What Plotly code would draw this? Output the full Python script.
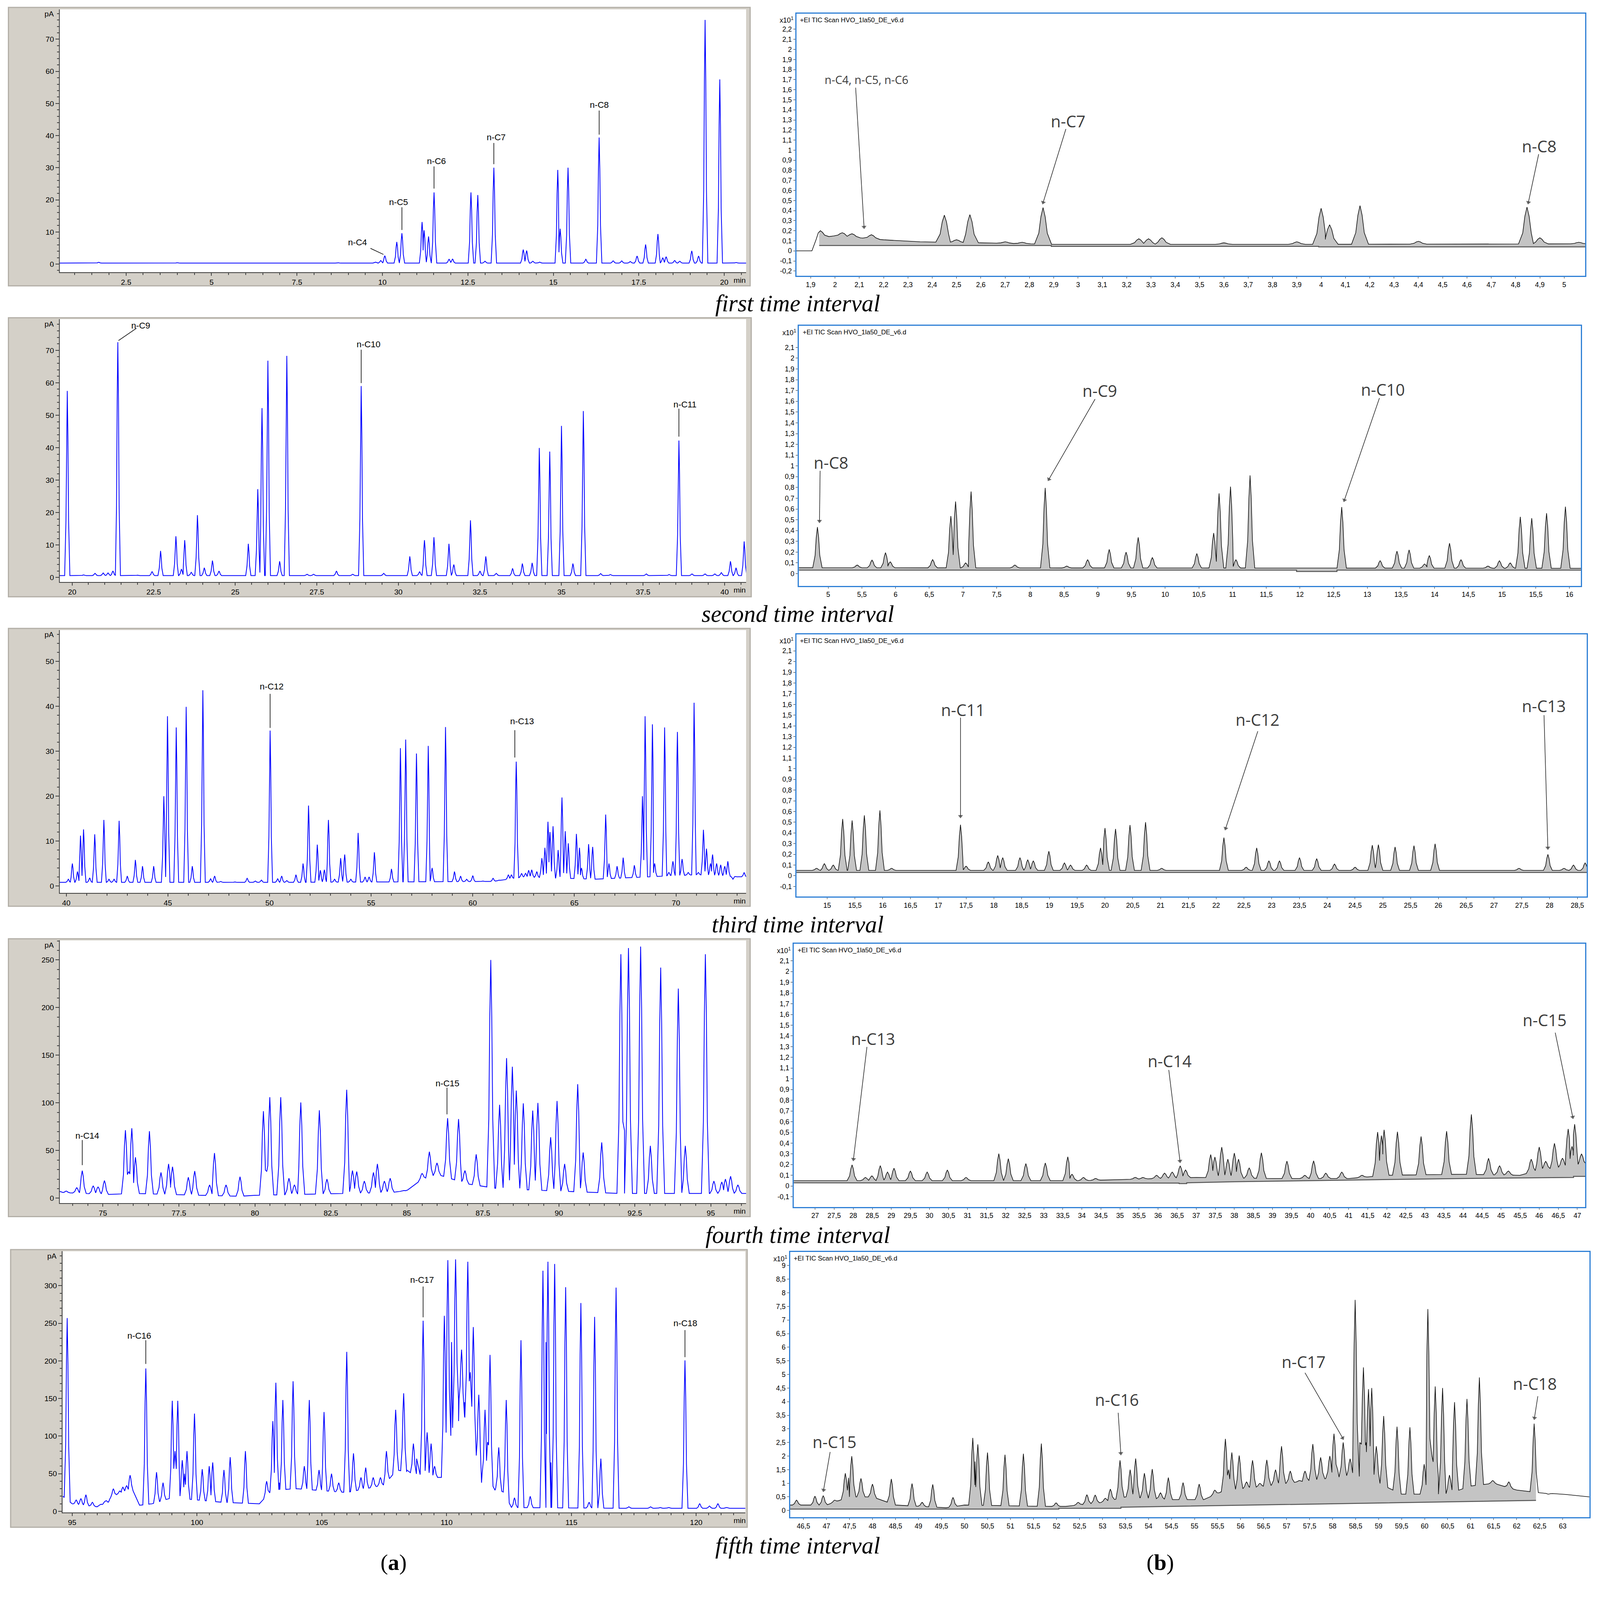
import numpy as np
import plotly.graph_objects as go

# reference canvas (all geometry below is read in these pixels) and the real browser window
W, H = 4364, 5804
WIN_W, WIN_H = 4096, 4096
SX, SY = WIN_W / W, WIN_H / H
FS = 0.8  # font / stroke scale for the smaller window

# ---------------- (a) FID chromatograms, pA vs min ----------------
a1_t = [1.7, 4.0, 8.7, 9.8, 9.95, 10.07, 10.42, 10.57, 11.16, 11.22, 11.35, 11.51, 11.95, 12.05, 12.59, 12.79,
        13.0, 13.26, 14.12, 14.22, 14.4, 14.6, 15.13, 15.2, 15.43, 15.95, 16.34, 16.75, 17.0, 17.25, 17.45, 17.7,
        18.06, 18.2, 18.3, 18.55, 18.7, 19.05, 19.25, 19.44, 19.87, 20.35]
a1_h = [0.55, 0.45, 0.45, 0.6, 1.1, 2.6, 6.9, 9.6, 13.1, 10.5, 8.6, 22.3, 1.5, 1.6, 22.3, 21.5,
        0.9, 30.0, 4.5, 4.2, 0.9, 0.6, 29.3, 11.0, 30.0, 1.5, 39.4, 1.0, 1.0, 0.8, 2.5, 6.1,
        9.35, 2.0, 2.3, 1.1, 0.9, 4.1, 2.5, 76.0, 57.5, 0.5]
a1_floor_t = [0.56, 20.64]
a1_floor_y = [0.3, 0.3]

a2_t = [19.85, 20.35, 20.7, 20.95, 21.1, 21.25, 21.4, 22.0, 22.45, 22.71, 23.18, 23.35, 23.45, 23.65, 23.84,
        24.05, 24.3, 24.5, 25.4, 25.69, 25.82, 26.0, 26.36, 26.58, 27.2, 27.4, 28.1, 28.6, 28.86, 29.55,
        30.35, 30.65, 30.8, 31.09, 31.55, 31.7, 32.21, 32.5, 32.68, 33.0, 33.5, 33.8, 34.1, 34.32, 34.64,
        35.0, 35.35, 35.67, 36.2, 36.5, 37.6, 38.3, 38.6, 39.0, 39.4, 39.7, 39.9, 40.18, 40.35, 40.6]
a2_h = [57.5, 0.8, 1.3, 1.4, 1.4, 2.0, 72.5, 0.7, 1.8, 8.2, 12.7, 2.6, 11.5, 1.6, 19.2,
        3.0, 5.2, 2.0, 10.4, 27.2, 52.2, 66.8, 5.0, 68.3, 1.0, 1.0, 2.0, 1.0, 59.0, 1.3,
        6.5, 1.8, 11.5, 12.4, 10.4, 4.0, 17.6, 2.0, 6.5, 1.3, 2.8, 4.3, 4.5, 39.9, 38.8,
        46.7, 4.3, 51.3, 1.2, 0.9, 1.1, 0.9, 42.2, 1.1, 1.1, 1.1, 1.5, 5.0, 3.0, 11.1]
a2_floor_t = [19.62, 40.66]
a2_floor_y = [0.6, 0.6]

a3_t = [40.1, 40.3, 40.55, 40.7, 40.85, 41.15, 41.4, 41.85, 42.1, 42.35, 42.6, 43.0, 43.4, 43.75, 44.3, 44.8,
        44.98, 45.41, 45.9, 46.2, 46.72, 47.1, 47.3, 47.6, 48.3, 48.9, 49.3, 49.6, 50.03, 50.4, 50.6, 50.85,
        51.3, 51.65, 51.92, 52.35, 52.5, 52.7, 52.9, 53.2, 53.5, 53.7, 54.0, 54.36, 54.7, 54.9, 55.16, 56.0,
        56.44, 56.7, 57.23, 57.81, 58.0, 58.66, 59.1, 59.4, 59.7, 60.0, 60.5, 61.0, 61.3, 61.75, 61.9, 62.14,
        62.4, 62.6, 62.75, 62.9, 63.15, 63.4, 63.55, 63.7, 63.8, 63.95, 64.2, 64.39, 64.55, 64.7, 65.1, 65.25,
        65.35, 65.7, 65.9, 66.54, 66.7, 67.1, 67.4, 67.95, 68.35, 68.48, 68.84, 68.95, 69.44, 69.65, 69.85,
        70.07, 70.3, 70.6, 70.89, 71.1, 71.35, 71.5, 71.7, 71.8, 72.0, 72.2, 72.4, 72.55, 72.8, 73.0, 73.35]
a3_h = [1.5, 5.0, 3.2, 11.2, 12.6, 1.8, 11.5, 14.7, 1.5, 1.5, 14.5, 2.2, 5.8, 4.4, 4.4, 20.0,
        37.8, 35.3, 39.9, 4.4, 43.6, 1.6, 2.2, 1.0, 0.9, 1.7, 1.1, 1.3, 34.6, 1.6, 2.2, 1.2,
        2.5, 5.0, 17.9, 9.2, 3.5, 3.6, 14.7, 1.5, 6.2, 7.0, 1.5, 11.8, 2.0, 2.0, 7.5, 3.8,
        30.7, 32.6, 29.5, 31.2, 4.0, 35.4, 3.2, 2.2, 1.5, 2.3, 1.1, 1.7, 1.3, 2.5, 2.5, 27.7,
        2.8, 2.8, 3.5, 3.6, 3.2, 6.2, 8.5, 14.3, 12.0, 13.3, 8.0, 19.7, 12.2, 9.5, 11.6, 8.5,
        4.0, 9.3, 8.7, 15.9, 5.0, 4.4, 6.3, 4.6, 20.0, 37.8, 36.0, 5.0, 35.3, 3.0, 5.5,
        34.3, 6.0, 3.0, 40.8, 3.0, 12.5, 8.3, 5.0, 7.0, 5.0, 4.7, 4.4, 5.5, 1.5, 2.0, 3.0]
a3_floor_t = [39.68, 44.0, 47.0, 51.0, 56.0, 61.0, 62.5, 66.0, 71.0, 73.45]
a3_floor_y = [0.8, 0.8, 0.8, 0.8, 0.9, 1.0, 2.0, 1.5, 2.5, 2.0]

a4_t = [73.59, 73.79, 74.14, 74.32, 74.68, 74.84, 75.05, 75.74, 75.95, 76.07, 76.53, 76.91, 77.16, 77.29,
        77.81, 78.02, 78.51, 78.67, 79.05, 79.51, 80.28, 80.49, 80.85, 81.12, 81.3, 81.51, 82.12, 82.37,
        83.02, 83.21, 83.35, 83.6, 83.9, 84.03, 84.26, 84.45, 84.9, 85.5, 85.74, 85.99, 86.34, 86.7, 86.91,
        87.28, 87.76, 88.05, 88.28, 88.47, 88.6, 88.83, 89.14, 89.31, 89.73, 89.94, 90.19, 90.62, 90.8,
        91.41, 92.04, 92.29, 92.69, 93.01, 93.35, 93.93, 94.16, 94.82, 95.1, 95.36, 95.48, 95.65, 95.89]
a4_h = [7, 7.5, 11, 28.9, 13, 12, 18.5, 71.4, 73.4, 43, 70.3, 27, 36, 33,
        22, 28.5, 14, 47.4, 14, 22.5, 91.3, 106, 106, 21, 14, 100.5, 92.3, 20,
        113.8, 29, 28, 18, 27, 36, 18, 21, 8, 26, 48.8, 37, 84, 83, 29,
        46, 250, 98, 147, 138, 113, 99.5, 92, 100, 64, 102, 36, 119.6, 48,
        58.5, 256, 262.5, 264, 55, 242, 220, 55, 256, 18, 17, 20, 23, 14]
a4_valley_t = [75.85, 80.39, 92.16]
a4_valley_y = [28, 28, 71]
a4_floor_t = [73.58, 75.2, 76.0, 79.5, 80.0, 84.5, 85.0, 85.5, 86.0, 87.0, 88.0, 92.0, 96.16]
a4_floor_y = [6, 4, 5, 2, 3, 6, 8, 20, 25, 15, 10, 5, 5]

a5_t = [94.8, 95.16, 95.35, 95.55, 95.81, 96.2, 96.44, 96.65, 96.91, 97.03, 97.18, 97.32, 97.95, 98.38, 98.64,
        99.01, 99.23, 99.41, 99.6, 99.9, 100.21, 100.49, 100.63, 101.08, 101.33, 101.94, 102.79, 103.04,
        103.16, 103.44, 103.85, 104.3, 104.5, 104.89, 105.09, 105.39, 105.68, 106.0, 106.27, 106.57, 106.76,
        107.06, 107.35, 107.59, 107.96, 108.28, 108.67, 109.06, 109.22, 109.38, 109.52, 109.91, 110.05,
        110.36, 110.6, 110.85, 111.07, 111.29, 111.54, 111.74, 112.09, 112.39, 112.72, 112.98, 113.35,
        113.86, 114.06, 114.33, 114.77, 115.38, 115.71, 115.93, 116.18, 116.79, 117.3, 118.17, 118.56,
        118.9, 119.55, 120.14, 120.53, 120.87, 121.22]
a5_h = [257, 15, 17, 22, 12, 9, 12, 30, 27, 32, 34, 48, 190, 52, 38,
        147, 147, 68, 80, 130, 56, 60, 65, 55, 72, 80, 40, 120,
        171, 148, 173, 60, 148, 55, 132, 50, 38, 212, 77, 45, 58,
        45, 45, 80, 135, 157, 90, 253.5, 105, 90, 60, 260, 334,
        335, 215, 332, 245, 155, 135, 208, 85, 148, 18, 227.5, 20,
        320, 332, 329, 298, 277, 12, 258.5, 70, 297.5, 6, 6, 5,
        5, 200.8, 10, 7, 10, 5]
a5_valley_t = [99.12, 99.5, 103.3, 108.4, 108.8, 110.2, 110.48, 110.72, 110.95, 111.19, 111.4, 111.64,
               111.94, 113.98, 114.18]
a5_valley_y = [80, 50, 38, 55, 70, 225, 120, 145, 185, 75, 38, 92, 28, 225, 65]
a5_floor_t = [94.62, 95.0, 96.0, 96.6, 97.4, 97.7, 98.2, 99.0, 100.0, 101.0, 102.5, 103.0, 104.0, 106.0,
              107.5, 108.0, 109.5, 109.8, 110.5, 111.5, 112.3, 112.6, 117.0, 121.97]
a5_floor_y = [20, 10, 6, 20, 30, 8, 10, 18, 15, 12, 10, 28, 30, 25, 35, 55, 45, 45, 150, 40, 25, 5, 4, 4]

# ---------------- (b) GC-MS TIC chromatograms (x10^1) ----------------
b1_t = [1.94, 2.03, 2.07, 2.15, 2.45, 2.5, 2.555, 2.7, 2.77, 2.856, 3.25, 3.29, 3.345, 3.6, 3.9, 4.0, 4.035,
        4.16, 4.4, 4.847, 4.9, 5.06]
b1_h = [0.2, 0.18, 0.17, 0.16, 0.355, 0.11, 0.36, 0.09, 0.085, 0.43, 0.12, 0.12, 0.13, 0.08, 0.09, 0.423, 0.26,
        0.449, 0.095, 0.435, 0.13, 0.085]
b1_floor_t = [1.841, 1.905, 1.935, 2.0, 2.1, 2.2, 2.35, 2.6, 2.9, 4.0, 5.087]
b1_floor_y = [0.0, 0.0, 0.13, 0.15, 0.13, 0.11, 0.09, 0.08, 0.065, 0.065, 0.07]
b1_base_t = [1.935, 2.89, 2.89, 3.99, 3.99, 5.087]
b1_base_y = [0.053, 0.053, 0.045, 0.045, 0.04, 0.04]

b2_t = [4.84, 5.43, 5.65, 5.85, 5.92, 6.55, 6.82, 6.89, 7.04, 7.12, 7.77, 8.22, 8.54, 8.85, 9.17, 9.42, 9.6,
        9.81, 10.47, 10.72, 10.8, 10.97, 11.05, 11.26, 12.62, 13.19, 13.44, 13.62, 13.85, 13.92, 14.22,
        14.39, 14.79, 14.96, 15.12, 15.27, 15.44, 15.66, 15.94]
b2_h = [0.432, 0.08, 0.126, 0.195, 0.11, 0.13, 0.535, 0.67, 0.1, 0.762, 0.08, 0.796, 0.07, 0.13, 0.225, 0.2,
        0.337, 0.15, 0.187, 0.377, 0.745, 0.808, 0.13, 0.912, 0.618, 0.12, 0.209, 0.221, 0.09, 0.169, 0.282,
        0.13, 0.07, 0.12, 0.1, 0.527, 0.515, 0.561, 0.622]
b2_floor_t = [4.565, 16.17]
b2_floor_y = [0.055, 0.05]
b2_base_t = [4.565, 11.95, 11.95, 12.55, 12.55, 16.17]
b2_base_y = [0.033, 0.033, 0.02, 0.02, 0.033, 0.033]

b3_t = [14.81, 14.95, 15.11, 15.28, 15.45, 15.67, 15.95, 16.16, 17.4, 17.5, 17.9, 18.07, 18.16, 18.47, 18.61,
        18.71, 18.99, 19.27, 19.38, 19.67, 19.92, 20.0, 20.19, 20.45, 20.73, 21.02, 22.14, 22.54, 22.73, 22.95,
        23.14, 23.5, 23.81, 24.13, 24.5, 24.81, 24.92, 25.22, 25.56, 25.94, 27.45, 27.97, 28.26, 28.43, 28.64]
b3_h = [0.07, 0.113, 0.1, 0.53, 0.517, 0.564, 0.611, 0.07, 0.477, 0.09, 0.13, 0.19, 0.17, 0.17, 0.15,
        0.14, 0.229, 0.12, 0.1, 0.1, 0.26, 0.446, 0.4375, 0.474, 0.5, 0.07, 0.356, 0.08, 0.26, 0.14,
        0.14, 0.17, 0.16, 0.11, 0.08, 0.286, 0.29, 0.269, 0.281, 0.299, 0.07, 0.2, 0.07, 0.1, 0.12]
b3_floor_t = [14.446, 28.67]
b3_floor_y = [0.05, 0.05]
b3_base_t = [14.446, 28.67]
b3_base_y = [0.031, 0.031]

b4_t = [27.97, 28.32, 28.49, 28.71, 28.9, 29.07, 29.5, 29.94, 30.47, 30.96, 31.82, 32.07, 32.53, 33.04, 33.63,
        33.74, 34.04, 34.36, 35.4, 35.6, 35.96, 36.17, 36.37, 36.58, 36.72, 37.38, 37.49, 37.67, 37.83, 38.0,
        38.11, 38.39, 38.71, 39.38, 39.85, 40.08, 40.4, 40.82, 41.35, 41.76, 41.86, 41.93, 42.28, 42.9, 43.57,
        44.22, 44.67, 44.96, 45.19, 45.43, 45.79, 46.0, 46.17, 46.4, 46.61, 46.76, 46.86, 46.93, 47.11]
b4_h = [0.197, 0.08, 0.095, 0.19, 0.13, 0.166, 0.14, 0.13, 0.15, 0.08, 0.302, 0.255, 0.209, 0.215, 0.272,
        0.11, 0.08, 0.07, 0.08, 0.08, 0.1, 0.12, 0.13, 0.188, 0.15, 0.293, 0.27, 0.363, 0.25, 0.307,
        0.25, 0.17, 0.31, 0.232, 0.1, 0.235, 0.12, 0.13, 0.1, 0.503, 0.47, 0.524, 0.506, 0.462, 0.511,
        0.668, 0.258, 0.19, 0.14, 0.1, 0.25, 0.363, 0.23, 0.398, 0.26, 0.532, 0.37, 0.576, 0.3]
b4_floor_t = [26.44, 34.0, 35.0, 36.0, 37.0, 39.0, 41.0, 42.0, 44.0, 45.5, 46.0, 47.21]
b4_floor_y = [0.05, 0.05, 0.06, 0.07, 0.08, 0.07, 0.07, 0.1, 0.11, 0.1, 0.15, 0.2]
b4_base_t = [26.44, 36.55, 36.55, 36.75, 36.75, 38.0, 40.0, 42.0, 44.0, 46.9, 46.9, 47.21]
b4_base_y = [0.03, 0.027, 0.022, 0.022, 0.03, 0.04, 0.05, 0.06, 0.07, 0.08, 0.09, 0.09]

b5_t = [46.35, 46.75, 46.93, 47.18, 47.41, 47.55, 47.75, 48.0, 48.41, 48.86, 49.08, 49.31, 49.75, 50.18, 50.29,
        50.5, 50.88, 51.28, 51.67, 51.99, 52.47, 52.66, 52.84, 53.06, 53.17, 53.38, 53.6, 53.72, 53.91, 54.08,
        54.26, 54.43, 54.75, 55.1, 55.44, 55.67, 55.81, 55.97, 56.13, 56.26, 56.42, 56.57, 56.76, 56.89, 57.08,
        57.28, 57.4, 57.57, 57.74, 57.94, 58.03, 58.23, 58.38, 58.49, 58.67, 58.78, 58.85, 58.95, 59.11, 59.4,
        59.68, 59.99, 60.07, 60.23, 60.39, 60.54, 60.65, 60.92, 61.19, 61.48, 61.83, 62.38, 62.69, 62.97]
b5_h = [0.38, 0.526, 0.547, 0.38, 1.367, 1.996, 1.18, 0.97, 1.16, 0.99, 0.3, 0.957, 0.48, 2.666, 2.43,
        2.13, 2.05, 2.085, 2.46, 0.28, 0.3, 0.58, 0.57, 0.45, 0.786, 1.845, 1.5, 1.91, 1.37, 1.52,
        0.65, 1.21, 1.025, 0.97, 0.75, 2.63, 2.13, 2.02, 1.05, 1.845, 1.0, 1.86, 1.5, 2.36, 1.45,
        1.1, 1.45, 2.44, 1.95, 2.0, 2.82, 2.5, 1.9, 7.74, 5.26, 4.46, 4.5, 2.36, 3.47, 3.08,
        3.06, 1.7, 7.4, 4.56, 4.5, 1.3, 3.98, 4.1, 4.89, 1.1, 1.05, 3.19, 0.6, 0.6]
b5_valley_t = [47.48, 50.23, 55.74, 58.11, 58.59, 58.73, 60.16, 60.3]
b5_valley_y = [1.2, 1.8, 1.5, 1.5, 2.5, 2.5, 2.0, 1.2]
b5_floor_t = [46.21, 46.5, 47.0, 47.5, 48.0, 48.5, 49.6, 50.0, 51.8, 52.2, 53.0, 53.5, 54.5, 55.2, 55.6, 56.3,
              57.0, 58.0, 58.5, 59.0, 59.5, 60.5, 61.0, 61.5, 62.0, 62.5, 63.0, 63.58]
b5_floor_y = [0.2, 0.2, 0.2, 0.5, 0.5, 0.2, 0.1, 0.2, 0.15, 0.15, 0.3, 0.5, 0.4, 0.4, 0.7, 0.85,
              1.0, 1.2, 1.3, 1.0, 0.6, 0.6, 0.9, 1.0, 0.75, 0.65, 0.6, 0.5]
b5_base_t = [46.21, 52.05, 52.05, 53.4, 53.4, 62.42]
b5_base_y = [0.05, 0.05, 0.08, 0.08, 0.12, 0.37]

# peak labels: (text, text_x, text_y) and pointer lines / arrows (x_tail, y_tail, x_head, y_head)
a_labels = [
    [("n-C4", 9.27, 6.7), ("n-C5", 10.47, 19.3), ("n-C6", 11.58, 32.0), ("n-C7", 13.33, 39.5), ("n-C8", 16.35, 49.5)],
    [("n-C9", 22.11, 77.6), ("n-C10", 29.09, 71.8), ("n-C11", 38.79, 53.3)],
    [("n-C12", 50.1, 44.4), ("n-C13", 62.43, 36.7)],
    [("n-C14", 74.48, 65.6), ("n-C15", 86.34, 120.6)],
    [("n-C16", 97.69, 233.7), ("n-C17", 109.02, 308), ("n-C18", 119.57, 250)],
]
a_lines = [
    [(9.65, 4.9, 10.03, 3.0), (10.57, 17.7, 10.57, 10.6), (11.51, 30.4, 11.51, 23.5), (13.26, 37.7, 13.26, 31.1),
     (16.34, 47.8, 16.34, 40.3)],
    [(21.97, 76.8, 21.42, 73.0), (28.86, 70.2, 28.86, 59.9), (38.6, 52.0, 38.6, 43.4)],
    [(50.03, 42.8, 50.03, 35.2), (62.07, 34.7, 62.07, 28.6)],
    [(74.32, 61, 74.32, 34.7), (86.32, 116, 86.32, 88)],
    [(97.95, 227.5, 97.95, 196), (109.06, 299, 109.06, 258), (119.55, 241, 119.55, 205)],
]
b_labels = [
    [("n-C4, n-C5, n-C6", 2.13, 1.70), ("n-C7", 2.96, 1.29), ("n-C8", 4.897, 1.04)],
    [("n-C8", 5.04, 1.03), ("n-C9", 9.03, 1.70), ("n-C10", 13.23, 1.71)],
    [("n-C11", 17.45, 1.55), ("n-C12", 22.75, 1.46), ("n-C13", 27.9, 1.585)],
    [("n-C13", 28.53, 1.375), ("n-C14", 36.3, 1.166), ("n-C15", 46.14, 1.55)],
    [("n-C15", 47.18, 2.53), ("n-C16", 53.31, 4.07), ("n-C17", 57.37, 5.47), ("n-C18", 62.4, 4.67)],
]
b_arrows = [
    [(2.085, 1.62, 2.12, 0.218), (2.95, 1.21, 2.854, 0.462), (4.895, 0.96, 4.851, 0.462)],
    [(4.88, 0.955, 4.87, 0.47), (8.96, 1.62, 8.26, 0.86), (13.18, 1.63, 12.65, 0.665)],
    [(17.4, 1.476, 17.4, 0.538), (22.75, 1.35, 22.16, 0.425), (27.9, 1.50, 27.97, 0.243)],
    [(28.36, 1.297, 28.0, 0.232), (36.28, 1.082, 36.58, 0.215), (46.42, 1.43, 46.89, 0.625)],
    [(47.08, 2.15, 46.93, 0.68), (53.34, 3.59, 53.4, 2.03), (57.4, 5.06, 58.24, 2.6), (62.46, 4.2, 62.38, 3.33)],
]
captions = ["first time interval", "second time interval", "third time interval",
            "fourth time interval", "fifth time interval"]

# tick values of the (b) panels
b_xticks = [
    [round(1.9 + 0.1 * i, 1) for i in range(32)],
    [5 + 0.5 * i for i in range(23)],
    [15 + 0.5 * i for i in range(28)],
    [27 + 0.5 * i for i in range(41)],
    [46.5 + 0.5 * i for i in range(34)],
]
b_yticks = [
    [round(-0.2 + 0.1 * i, 1) for i in range(25)],
    [round(0.1 * i, 1) for i in range(22)],
    [round(-0.1 + 0.1 * i, 1) for i in range(23)],
    [round(-0.1 + 0.1 * i, 1) for i in range(23)],
    [0.5 * i for i in range(19)],
]

# ---------------- layout geometry (reference pixels) ----------------
LEFT_BOX = [(163, 2035, 34, 989), (163, 2035, 1160, 2115), (163, 2035, 2290, 3245),
            (163, 2035, 3418, 4373), (171, 2033, 4548, 5497)]
LEFT_FRAME = [(23, 2046, 27, 1039), (23, 2049, 1155, 2169), (23, 2046, 2284, 3294),
              (23, 2046, 3412, 4422), (29, 2038, 4542, 5551)]
RIGHT_BOX = [(2172, 4324, 49, 1003), (2179, 4312, 1184, 2130), (2172, 4328, 2305, 3259),
             (2165, 4324, 3430, 4387), (2155, 4335, 4550, 5515)]
CAPTION_Y = [1103, 2231, 3360, 4488, 5617]

a_xr = [[0.56, 20.64], [19.62, 40.66], [39.68, 73.45], [73.58, 96.16], [94.62, 121.97]]
a_yr = [[-2.5, 79.3], [-1.36, 79.6], [-1.53, 57.0], [-5.2, 270.5], [-1.5, 345.8]]
a_xdtick = [2.5, 2.5, 5, 2.5, 5]
a_xminor = [0.5, 0.5, 1, 0.5, 0.5]
a_ydtick = [10, 10, 10, 50, 50]
a_yminor = [2, 2, 2, 10, 10]
b_xr = [[1.841, 5.087], [4.565, 16.17], [14.446, 28.67], [26.44, 47.21], [46.21, 63.58]]
b_yr = [[-0.249, 2.357], [-0.115, 2.301], [-0.195, 2.256], [-0.196, 2.26], [-0.253, 9.505]]

A_HW = [0.08, 0.08, 0.12, 0.13, 0.12]
B_HW = [0.035, 0.07, 0.08, 0.13, 0.09]
FLANK = [(1.0, 0.0), (0.5, 0.3), (0.25, 0.75)]


def chrom(pt, ph, ft, fy, hw, vt=(), vh=()):
    """Polyline of a chromatogram built from the read peak apexes, valleys and baseline."""
    assert len(pt) == len(ph) and len(vt) == len(vh) and len(ft) == len(fy)
    pts = sorted([(t, h, True) for t, h in zip(pt, ph)] + [(t, h, False) for t, h in zip(vt, vh)])
    xs, ys = [ft[0]], [fy[0]]

    def fl(x):
        return float(np.interp(x, ft, fy))

    def add_floor(a, b):
        for k, v in zip(ft, fy):
            if a < k < b:
                xs.append(k)
                ys.append(v)

    for i, (t, h, pk) in enumerate(pts):
        prev = pts[i - 1] if i else None
        nxt = pts[i + 1] if i + 1 < len(pts) else None
        if not pk:
            add_floor(xs[-1], t)
            xs.append(t)
            ys.append(h)
            continue
        if prev is None:
            lim = 1e9
        elif prev[2]:
            lim = (t - prev[0]) / 2
        else:
            lim = t - prev[0]
        left = [(o, f) for o, f in FLANK if o * hw < lim]
        if left:
            add_floor(xs[-1], t - left[0][0] * hw)
        for o, f in left:
            x = t - o * hw
            b = fl(x)
            xs.append(x)
            ys.append(b + f * (h - b))
        xs.append(t)
        ys.append(h)
        if nxt is None:
            lim = 1e9
        elif nxt[2]:
            lim = (nxt[0] - t) / 2
        else:
            lim = nxt[0] - t
        for o, f in reversed(FLANK):
            if o * hw < lim:
                x = t + o * hw
                b = fl(x)
                xs.append(x)
                ys.append(b + f * (h - b))
        if nxt is not None and nxt[2] and nxt[0] - t < 2 * hw:
            m = (t + nxt[0]) / 2
            bm = fl(m)
            dv = max(min(h, nxt[1]) - bm, 0)
            xs.append(m)
            ys.append(bm + dv * (1 - (nxt[0] - t) / (2 * hw)) ** 2)
    add_floor(xs[-1], ft[-1])
    xs.append(ft[-1])
    ys.append(fy[-1])
    return xs, ys


def comma(v):
    s = f"{v:.2f}".rstrip("0").rstrip(".")
    return s.replace(".", ",")


def px(x):
    return x / W


def py(y):
    return 1 - y / H


def fnt(size, family="Liberation Sans, Arial, sans-serif", color="black"):
    return dict(family=family, size=round(size * FS, 1), color=color)


a_data = [
    (a1_t, a1_h, a1_floor_t, a1_floor_y, [], []),
    (a2_t, a2_h, a2_floor_t, a2_floor_y, [], []),
    (a3_t, a3_h, a3_floor_t, a3_floor_y, [], []),
    (a4_t, a4_h, a4_floor_t, a4_floor_y, a4_valley_t, a4_valley_y),
    (a5_t, a5_h, a5_floor_t, a5_floor_y, a5_valley_t, a5_valley_y),
]
b_data = [
    (b1_t, b1_h, b1_floor_t, b1_floor_y, [], [], b1_base_t, b1_base_y),
    (b2_t, b2_h, b2_floor_t, b2_floor_y, [], [], b2_base_t, b2_base_y),
    (b3_t, b3_h, b3_floor_t, b3_floor_y, [], [], b3_base_t, b3_base_y),
    (b4_t, b4_h, b4_floor_t, b4_floor_y, [], [], b4_base_t, b4_base_y),
    (b5_t, b5_h, b5_floor_t, b5_floor_y, b5_valley_t, b5_valley_y, b5_base_t, b5_base_y),
]

fig = go.Figure()
layout = dict(autosize=True, margin=dict(l=0, r=0, t=0, b=0), paper_bgcolor="white",
              plot_bgcolor="rgba(0,0,0,0)", showlegend=False)
shapes, annotations = [], []

LEFT_FONT = fnt(24)
RIGHT_FONT = fnt(22)
BLUE_BOX = "#2f80d6"
XT = round(10 * SY)   # tick lengths in window pixels
YT = round(10 * SX)

for i in range(5):
    # ---------- left (a) panel ----------
    n = 2 * i + 1
    xa = "xaxis" if n == 1 else f"xaxis{n}"
    ya = "yaxis" if n == 1 else f"yaxis{n}"
    xr = "x" if n == 1 else f"x{n}"
    yr = "y" if n == 1 else f"y{n}"
    x0, x1, y0, y1 = LEFT_BOX[i]
    fx0, fx1, fy0, fy1 = LEFT_FRAME[i]
    shapes.append(dict(type="rect", xref="paper", yref="paper", x0=px(fx0), x1=px(fx1), y0=py(fy1), y1=py(fy0),
                       fillcolor="#d4d0c8", line=dict(color="#b3afa7", width=3), layer="below"))
    shapes.append(dict(type="rect", xref="paper", yref="paper", x0=px(x0), x1=px(x1), y0=py(y1), y1=py(y0),
                       fillcolor="white", line=dict(width=0), layer="below"))
    layout[xa] = dict(domain=[px(x0), px(x1)], range=a_xr[i], anchor=yr, showline=True, linecolor="#404040",
                      linewidth=2, ticks="outside", ticklen=XT, tickwidth=1.5, tickcolor="#404040", tick0=0,
                      dtick=a_xdtick[i], showgrid=False, zeroline=False, tickfont=LEFT_FONT, fixedrange=True,
                      minor=dict(dtick=a_xminor[i], tick0=0, ticks="outside", ticklen=round(XT * 0.7),
                                 tickwidth=1.5, tickcolor="#404040", showgrid=False))
    layout[ya] = dict(domain=[py(y1), py(y0)], range=a_yr[i], anchor=xr, showline=True, linecolor="#404040",
                      linewidth=2, ticks="outside", ticklen=YT, tickwidth=1.5, tickcolor="#404040", tick0=0,
                      dtick=a_ydtick[i], showgrid=False, zeroline=False, tickfont=LEFT_FONT, fixedrange=True,
                      minor=dict(dtick=a_yminor[i], tick0=0, ticks="outside", ticklen=round(YT * 0.6),
                                 tickwidth=1.5, tickcolor="#404040", showgrid=False))
    pt, ph, ft, fyv, vt, vh = a_data[i]
    sx, sy = chrom(pt, ph, ft, fyv, A_HW[i], vt, vh)
    fig.add_trace(go.Scatter(x=sx, y=sy, mode="lines", line=dict(color="#0000ff", width=2),
                             xaxis=xr, yaxis=yr, hoverinfo="skip"))
    for (txt, tx, ty) in a_labels[i]:
        annotations.append(dict(text=txt, x=tx, y=ty, xref=xr, yref=yr, showarrow=False, font=fnt(28)))
    for (lx0, ly0, lx1, ly1) in a_lines[i]:
        shapes.append(dict(type="line", xref=xr, yref=yr, x0=lx0, y0=ly0, x1=lx1, y1=ly1,
                           line=dict(color="black", width=1.6)))
    annotations.append(dict(text="pA", x=px(x0 - 14), y=py(y0 + 17), xref="paper", yref="paper",
                            xanchor="right", yanchor="middle", showarrow=False, font=LEFT_FONT))
    annotations.append(dict(text="min", x=px(2017), y=py(y1 + 29), xref="paper", yref="paper",
                            xanchor="center", yanchor="middle", showarrow=False, font=LEFT_FONT))

    # ---------- right (b) panel ----------
    n = 2 * i + 2
    xa, ya, xr, yr = f"xaxis{n}", f"yaxis{n}", f"x{n}", f"y{n}"
    x0, x1, y0, y1 = RIGHT_BOX[i]
    layout[xa] = dict(domain=[px(x0), px(x1)], range=b_xr[i], anchor=yr, showline=True, mirror=True,
                      linecolor=BLUE_BOX, linewidth=3, ticks="outside", ticklen=4, tickwidth=1.2,
                      tickcolor="#222", tickmode="array", tickvals=b_xticks[i],
                      ticktext=[comma(v) for v in b_xticks[i]], showgrid=False, zeroline=False,
                      tickfont=RIGHT_FONT, fixedrange=True)
    layout[ya] = dict(domain=[py(y1), py(y0)], range=b_yr[i], anchor=xr, showline=True, mirror=True,
                      linecolor=BLUE_BOX, linewidth=3, ticks="outside", ticklen=5, tickwidth=1.2,
                      tickcolor="#222", tickmode="array", tickvals=b_yticks[i],
                      ticktext=[comma(v) for v in b_yticks[i]], showgrid=False, zeroline=False,
                      tickfont=RIGHT_FONT, fixedrange=True)
    pt, ph, ft, fyv, vt, vh, bt, by = b_data[i]
    sx, sy = chrom(pt, ph, ft, fyv, B_HW[i], vt, vh)
    fs, fe = bt[0], bt[-1]
    sxa, sya = np.array(sx), np.array(sy)
    inside = (sxa > fs) & (sxa < fe)
    polx = [fs] + list(sxa[inside]) + [fe] + list(bt[::-1])
    poly = [float(np.interp(fs, sxa, sya))] + list(sya[inside]) + [float(np.interp(fe, sxa, sya))] + list(by[::-1])
    fig.add_trace(go.Scatter(x=polx, y=poly, mode="lines", fill="toself", fillcolor="#c4c4c4",
                             line=dict(width=0, color="#c4c4c4"), xaxis=xr, yaxis=yr, hoverinfo="skip"))
    fig.add_trace(go.Scatter(x=bt, y=by, mode="lines", line=dict(color="#555555", width=2.5),
                             xaxis=xr, yaxis=yr, hoverinfo="skip"))
    fig.add_trace(go.Scatter(x=sx, y=sy, mode="lines", line=dict(color="#111111", width=1.6),
                             xaxis=xr, yaxis=yr, hoverinfo="skip"))
    for (txt, tx, ty) in b_labels[i]:
        size = 36 if "," in txt else 52
        annotations.append(dict(text=txt, x=tx, y=ty, xref=xr, yref=yr, showarrow=False,
                                font=fnt(size, "Open Sans, Liberation Sans, sans-serif", "#3c3c3c")))
    # arrows: thin line with an arrowhead marker turned along the line
    ux = (x1 - x0) * SX / (b_xr[i][1] - b_xr[i][0])
    uy = (y1 - y0) * SY / (b_yr[i][1] - b_yr[i][0])
    for (ax0, ay0, ax1, ay1) in b_arrows[i]:
        dxp, dyp = (ax1 - ax0) * ux, (ay1 - ay0) * uy
        ln = np.hypot(dxp, dyp)
        hx = ax1 - dxp / ln * 5 / ux
        hy = ay1 - dyp / ln * 5 / uy
        fig.add_trace(go.Scatter(x=[ax0, hx], y=[ay0, hy], mode="lines+markers", xaxis=xr, yaxis=yr,
                                 line=dict(color="#2a2a2a", width=1.6), hoverinfo="skip",
                                 marker=dict(symbol="triangle-up", size=[0, 11], angleref="previous",
                                             color="#2a2a2a", line=dict(width=0))))
    annotations.append(dict(text="x10<sup>1</sup>", x=px(x0 - 6), y=py(y0 + 24), xref="paper", yref="paper",
                            xanchor="right", yanchor="middle", showarrow=False, font=RIGHT_FONT))
    annotations.append(dict(text="+EI TIC Scan HVO_1la50_DE_v6.d", x=px(x0 + 8), y=py(y0 + 24), xref="paper",
                            yref="paper", xanchor="left", yanchor="middle", showarrow=False, font=fnt(21)))

    # ---------- caption ----------
    annotations.append(dict(text=f"<i>{captions[i]}</i>", x=px(2176), y=py(CAPTION_Y[i]), xref="paper",
                            yref="paper", xanchor="center", yanchor="middle", showarrow=False,
                            font=fnt(76, "Liberation Serif, Times New Roman, serif")))

annotations.append(dict(text="(<b>a</b>)", x=px(1036), y=py(5728), xref="paper", yref="paper", showarrow=False,
                        font=fnt(72, "Liberation Serif, Times New Roman, serif")))
annotations.append(dict(text="(<b>b</b>)", x=px(3204), y=py(5728), xref="paper", yref="paper", showarrow=False,
                        font=fnt(72, "Liberation Serif, Times New Roman, serif")))

layout["shapes"] = shapes
layout["annotations"] = annotations
fig.update_layout(**layout)
# the figure fills the browser window; drop the page margin so it lines up with the window edges
fig.write_html("out.html", default_width="100vw", default_height="100vh",
               config={"displayModeBar": False},
               post_script="document.body.style.margin='0';")
